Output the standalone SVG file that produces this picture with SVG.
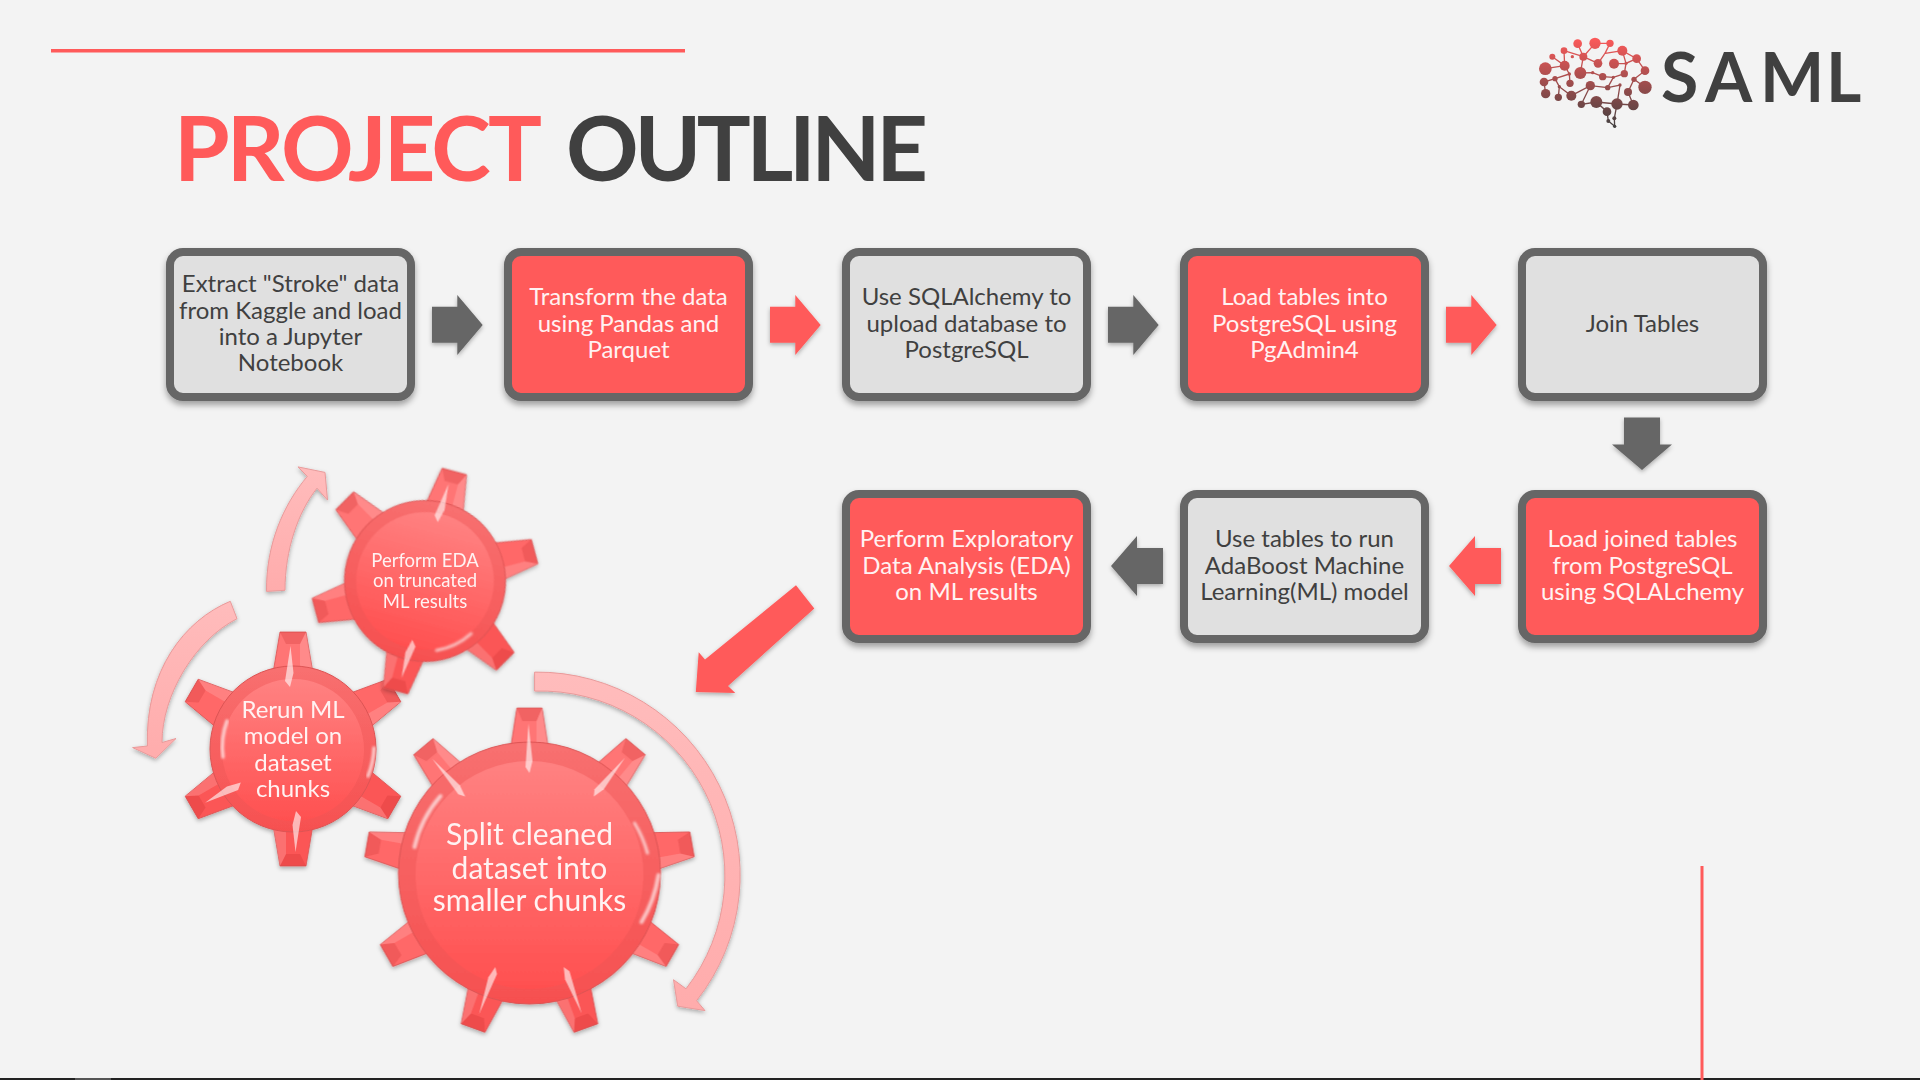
<svg xmlns="http://www.w3.org/2000/svg" xmlns:xlink="http://www.w3.org/1999/xlink" width="1920" height="1080" viewBox="0 0 1920 1080">
<style>
text{font-family:"Lato","Open Sans","Liberation Sans",sans-serif}
.box{stroke:#666;stroke-width:8;filter:url(#sh)}
.g{fill:#e0e0e0}.r{fill:#ff5a5a}
.lbl{font-size:24px;text-anchor:middle}
.dk{fill:#404040}.wh{fill:#fff2f2}
.ga{fill:#666;filter:url(#sh2)}.ra{fill:#ff5a5a;filter:url(#sh2)}
.cv{fill:url(#pink);stroke:#e99a9a;stroke-width:1;filter:url(#sh2)}
.glt{fill:#fff2f2;text-anchor:middle}
.hl{fill:none;stroke:#fff;stroke-opacity:.65;stroke-linecap:round;filter:url(#bl)}
.t1{fill:#ff7474}.t2{fill:#ff6868}.t3{fill:#fb5656}
.rim{fill:url(#rimG);stroke:#dc5454;stroke-width:1}
.core{fill:url(#coreG)}
</style>
<defs>
<filter id="sh" x="-10%" y="-10%" width="120%" height="125%"><feDropShadow dx="0" dy="4" stdDeviation="3" flood-color="#000" flood-opacity=".35"/></filter>
<filter id="sh2" x="-20%" y="-20%" width="140%" height="140%"><feDropShadow dx="0" dy="2" stdDeviation="2" flood-color="#000" flood-opacity=".3"/></filter>
<filter id="bl" x="-30%" y="-30%" width="160%" height="160%"><feGaussianBlur stdDeviation="1"/></filter>
<linearGradient id="pink" x1="0" y1="0" x2="0" y2="1"><stop offset="0" stop-color="#ffbcbc"/><stop offset="1" stop-color="#ffacac"/></linearGradient>
<linearGradient id="rimG" x1="0" y1="0" x2="0" y2="1"><stop offset="0" stop-color="#f87070"/><stop offset="1" stop-color="#f65050"/></linearGradient>
<linearGradient id="coreG" x1="0" y1="0" x2="0" y2="1"><stop offset="0" stop-color="#ff8282"/><stop offset="1" stop-color="#ff5050"/></linearGradient>
<linearGradient id="brain" gradientUnits="userSpaceOnUse" x1="0" y1="50" x2="0" y2="325"><stop offset="0" stop-color="#ff5a5a"/><stop offset="1" stop-color="#404040"/></linearGradient>
<g id="toothA">
<path d="M-19,-124L-12.6,-165L12.6,-165L19,-124Z" stroke="#dc5454" stroke-width=".8"/>
<path d="M-12.6,-165L12.6,-165L7,-152L-7,-152Z" fill="#c83030" fill-opacity=".25"/>
<path d="M12.6,-165L19,-124L7,-128L7,-152Z" fill="#fff" fill-opacity=".16"/>
</g>
<path id="slvA" d="M-4,-106L-1,-150L3,-112L0,-100Z" fill="#fff" fill-opacity=".6"/>
<g id="toothB">
<path d="M-20,-76L-13,-117L13,-117L20,-76Z" stroke="#dc5454" stroke-width=".8"/>
<path d="M-13,-117L13,-117L7,-105L-7,-105Z" fill="#c83030" fill-opacity=".25"/>
<path d="M13,-117L20,-76L7,-80L7,-105Z" fill="#fff" fill-opacity=".16"/>
</g>
<path id="slvB" d="M-8,-68L-2.5,-103L0.5,-76L-3,-62Z" fill="#fff" fill-opacity=".6"/>
</defs>

<rect width="1920" height="1080" fill="#f3f3f3"/>
<rect x="0" y="1078" width="1920" height="2" fill="#222"/>
<rect x="75" y="1078" width="36" height="2" fill="#555"/>
<rect x="51" y="49" width="634" height="3.5" fill="#ff5a5a"/>
<rect x="1700.5" y="866" width="3" height="214" fill="#ff5a5a"/>

<g id="title">
<text x="174" y="181" font-size="90" font-weight="700" fill="#ff5a5a" textLength="368" lengthAdjust="spacing">PROJECT</text>
<text x="566" y="181" font-size="90" font-weight="700" fill="#404040" textLength="362" lengthAdjust="spacing">OUTLINE</text>
</g>

<g id="logo">
<g transform="translate(1520,20) scale(.33333)">
<path fill="none" stroke="url(#brain)" stroke-width="4" d="M173,71L190,110L225,70L270,70L255,100L307,92L350,116L375,152L342,178L375,202M132,92L190,110L234,130L255,100M97,110L134,137L76,146M132,92L134,137L148,162L105,176L72,186L77,221M190,110L181,159L218,158L248,170L280,172L313,161L318,130L350,116M282,131L318,130M307,92L318,130M148,162L150,190M105,176L118,200L115,232M118,200L154,227L211,197L263,203L300,195L291,252M211,197L184,253L229,246L291,252L340,255L324,216L342,178M280,172L263,203M229,246L261,275L265,303L284,319L283,295L291,252"/>
<g fill="url(#brain)">
<circle cx="225" cy="70" r="17"/><circle cx="173" cy="71" r="13"/><circle cx="132" cy="92" r="10"/><circle cx="97" cy="110" r="9"/><circle cx="157" cy="110" r="5"/><circle cx="270" cy="70" r="11"/><circle cx="307" cy="92" r="15"/><circle cx="190" cy="110" r="12"/><circle cx="350" cy="116" r="13"/><circle cx="375" cy="152" r="13"/><circle cx="76" cy="146" r="19"/><circle cx="134" cy="137" r="15"/><circle cx="234" cy="130" r="13"/><circle cx="282" cy="131" r="15"/><circle cx="181" cy="159" r="18"/><circle cx="313" cy="161" r="11"/><circle cx="248" cy="170" r="11"/><circle cx="72" cy="186" r="13"/><circle cx="105" cy="176" r="8"/><circle cx="150" cy="190" r="11"/><circle cx="211" cy="197" r="14"/><circle cx="342" cy="178" r="8"/><circle cx="375" cy="202" r="20"/><circle cx="77" cy="221" r="14"/><circle cx="115" cy="232" r="11"/><circle cx="154" cy="227" r="15"/><circle cx="263" cy="203" r="8"/><circle cx="324" cy="216" r="12"/><circle cx="184" cy="253" r="11"/><circle cx="229" cy="246" r="18"/><circle cx="291" cy="252" r="17"/><circle cx="340" cy="255" r="16"/><circle cx="261" cy="275" r="13"/><circle cx="265" cy="303" r="6"/><circle cx="283" cy="295" r="6"/><circle cx="284" cy="319" r="5"/><circle cx="148" cy="162" r="5"/><circle cx="118" cy="200" r="5"/><circle cx="318" cy="130" r="5"/><circle cx="280" cy="172" r="5"/><circle cx="218" cy="158" r="5"/><circle cx="300" cy="195" r="5"/>
</g>
</g>
<text y="101.7" font-size="68" font-weight="700" fill="#404040" x="1661 1705 1760 1826">SAML</text>
</g>

<g id="connectors">
<path class="ga" d="M432,306.7H457.3V295L482.7,325L457.3,355V342.7H432Z"/>
<path class="ra" d="M770,306.7H795.3V295L820.7,325L795.3,355V342.7H770Z"/>
<path class="ga" d="M1108,306.7H1133.3V295L1158.7,325L1133.3,355V342.7H1108Z"/>
<path class="ra" d="M1446,306.7H1471.3V295L1496.7,325L1471.3,355V342.7H1446Z"/>
<path class="ga" d="M1624,417.5H1660V444.5H1672L1642,470L1612,444.5H1624Z"/>
<path class="ra" d="M1501,548H1475V536L1449,566L1475,596V584H1501Z"/>
<path class="ga" d="M1163,548H1137V536L1111,566L1137,596V584H1163Z"/>
<path class="ra" d="M796,585.3L814.3,608.6L728,686L735.3,693L695.8,691.9L698.7,652.3L705,659.5Z"/>
<path class="cv" d="M534.6,672.1A203,203 0 0 1 696.6,1000.7L705,1010.6L677.7,1006.2L673.5,979.7L686,988.8A184.5,184.5 0 0 0 534.6,691.1Z"/>
<path class="cv" d="M266.5,591.4C266,545 283,505 307.3,476.4L298,466.9L325,472.4L327.5,500.1L317,488.2C298,512 285,550 285,590.3Z"/>
<path class="cv" d="M230.3,601.3C185,620 145,670 147.4,746L132.6,747.6L155.8,758.3L176,738.5L162,742.5C162,695 195,640 237,618.7Z"/>
</g>

<g id="n1"><rect class="box g" x="170" y="252" width="241" height="145" rx="13"/><text class="lbl dk"><tspan x="290.5" y="292.3">Extract "Stroke" data</tspan><tspan x="290.5" y="318.5">from Kaggle and load</tspan><tspan x="290.5" y="344.7">into a Jupyter</tspan><tspan x="290.5" y="371">Notebook</tspan></text></g>
<g id="n2"><rect class="box r" x="508" y="252" width="241" height="145" rx="13"/><text class="lbl wh"><tspan x="628.5" y="305.3">Transform the data</tspan><tspan x="628.5" y="331.5">using Pandas and</tspan><tspan x="628.5" y="357.7">Parquet</tspan></text></g>
<g id="n3"><rect class="box g" x="846" y="252" width="241" height="145" rx="13"/><text class="lbl dk"><tspan x="966.5" y="305.3">Use SQLAlchemy to</tspan><tspan x="966.5" y="331.5">upload database to</tspan><tspan x="966.5" y="357.7">PostgreSQL</tspan></text></g>
<g id="n4"><rect class="box r" x="1184" y="252" width="241" height="145" rx="13"/><text class="lbl wh"><tspan x="1304.5" y="305.3">Load tables into</tspan><tspan x="1304.5" y="331.5">PostgreSQL using</tspan><tspan x="1304.5" y="357.7">PgAdmin4</tspan></text></g>
<g id="n5"><rect class="box g" x="1522" y="252" width="241" height="145" rx="13"/><text class="lbl dk" x="1642.5" y="332">Join Tables</text></g>
<g id="n6"><rect class="box r" x="1522" y="494" width="241" height="145" rx="13"/><text class="lbl wh"><tspan x="1642.5" y="547.3">Load joined tables</tspan><tspan x="1642.5" y="573.5">from PostgreSQL</tspan><tspan x="1642.5" y="599.7">using SQLALchemy</tspan></text></g>
<g id="n7"><rect class="box g" x="1184" y="494" width="241" height="145" rx="13"/><text class="lbl dk"><tspan x="1304.5" y="547.3">Use tables to run</tspan><tspan x="1304.5" y="573.5">AdaBoost Machine</tspan><tspan x="1304.5" y="599.7">Learning(ML) model</tspan></text></g>
<g id="n8"><rect class="box r" x="846" y="494" width="241" height="145" rx="13"/><text class="lbl wh"><tspan x="966.5" y="547.3">Perform Exploratory</tspan><tspan x="966.5" y="573.5">Data Analysis (EDA)</tspan><tspan x="966.5" y="599.7">on ML results</tspan></text></g>

<g id="gear-split">
<g filter="url(#sh2)" transform="translate(529.5,873)">
<use href="#toothA" class="t1"/><use href="#toothA" class="t1" transform="rotate(40)"/><use href="#toothA" class="t2" transform="rotate(80)"/><use href="#toothA" class="t2" transform="rotate(120)"/><use href="#toothA" class="t3" transform="rotate(160)"/><use href="#toothA" class="t3" transform="rotate(200)"/><use href="#toothA" class="t2" transform="rotate(240)"/><use href="#toothA" class="t2" transform="rotate(280)"/><use href="#toothA" class="t1" transform="rotate(320)"/>
<circle class="rim" r="131"/><circle class="core" cy="2" r="114"/>
<use href="#slvA"/><use href="#slvA" transform="rotate(40)"/><use href="#slvA" transform="rotate(320)"/><use href="#slvA" transform="rotate(160)"/><use href="#slvA" transform="rotate(200)"/>
<path class="hl" stroke-width="4" d="M-115,-26A118,118 0 0 1 -89,-77"/>
<path class="hl" stroke-width="4" d="M129,2A130,130 0 0 1 112,49"/>
<path class="hl" stroke-width="3" d="M105,-50A118,118 0 0 1 118,-20"/>
</g>
<text class="glt" font-size="30"><tspan x="529.5" y="845.3">Split cleaned</tspan><tspan x="529.5" y="879">dataset into</tspan><tspan x="529.5" y="911.3">smaller chunks</tspan></text>
</g>

<g id="gear-rerun">
<g filter="url(#sh2)" transform="translate(293,749)">
<use href="#toothB" class="t1"/><use href="#toothB" class="t2" transform="rotate(60)"/><use href="#toothB" class="t3" transform="rotate(120)"/><use href="#toothB" class="t3" transform="rotate(180)"/><use href="#toothB" class="t3" transform="rotate(240)"/><use href="#toothB" class="t2" transform="rotate(300)"/>
<circle class="rim" r="83"/><circle class="core" cy="1" r="71"/>
<use href="#slvB"/><use href="#slvB" transform="rotate(180)"/><use href="#slvB" transform="rotate(240)"/>
<path class="hl" stroke-width="3.5" d="M-70,8A71,71 0 0 1 -66,-28"/>
<path class="hl" stroke-width="3.5" d="M81,-1A82,82 0 0 1 75,27"/>
</g>
<text class="glt" font-size="24"><tspan x="293" y="718">Rerun ML</tspan><tspan x="293" y="743.7">model on</tspan><tspan x="293" y="770.6">dataset</tspan><tspan x="293" y="796.7">chunks</tspan></text>
</g>

<g id="gear-eda">
<g filter="url(#sh2)" transform="translate(425,581) rotate(15) scale(.97)">
<use href="#toothB" class="t1"/><use href="#toothB" class="t2" transform="rotate(60)"/><use href="#toothB" class="t3" transform="rotate(120)"/><use href="#toothB" class="t3" transform="rotate(180)"/><use href="#toothB" class="t2" transform="rotate(240)"/><use href="#toothB" class="t1" transform="rotate(300)"/>
<circle class="rim" r="83"/><circle class="core" r="71" fill="url(#coreG)"/>
<use href="#slvB"/><use href="#slvB" transform="rotate(180)"/>
<path class="hl" stroke-width="3" d="M60,40A72,72 0 0 1 30,66"/>
</g>
<text class="glt" font-size="18.5"><tspan x="425" y="566.5">Perform EDA</tspan><tspan x="425" y="587">on truncated</tspan><tspan x="425" y="608">ML results</tspan></text>
</g>
</svg>
